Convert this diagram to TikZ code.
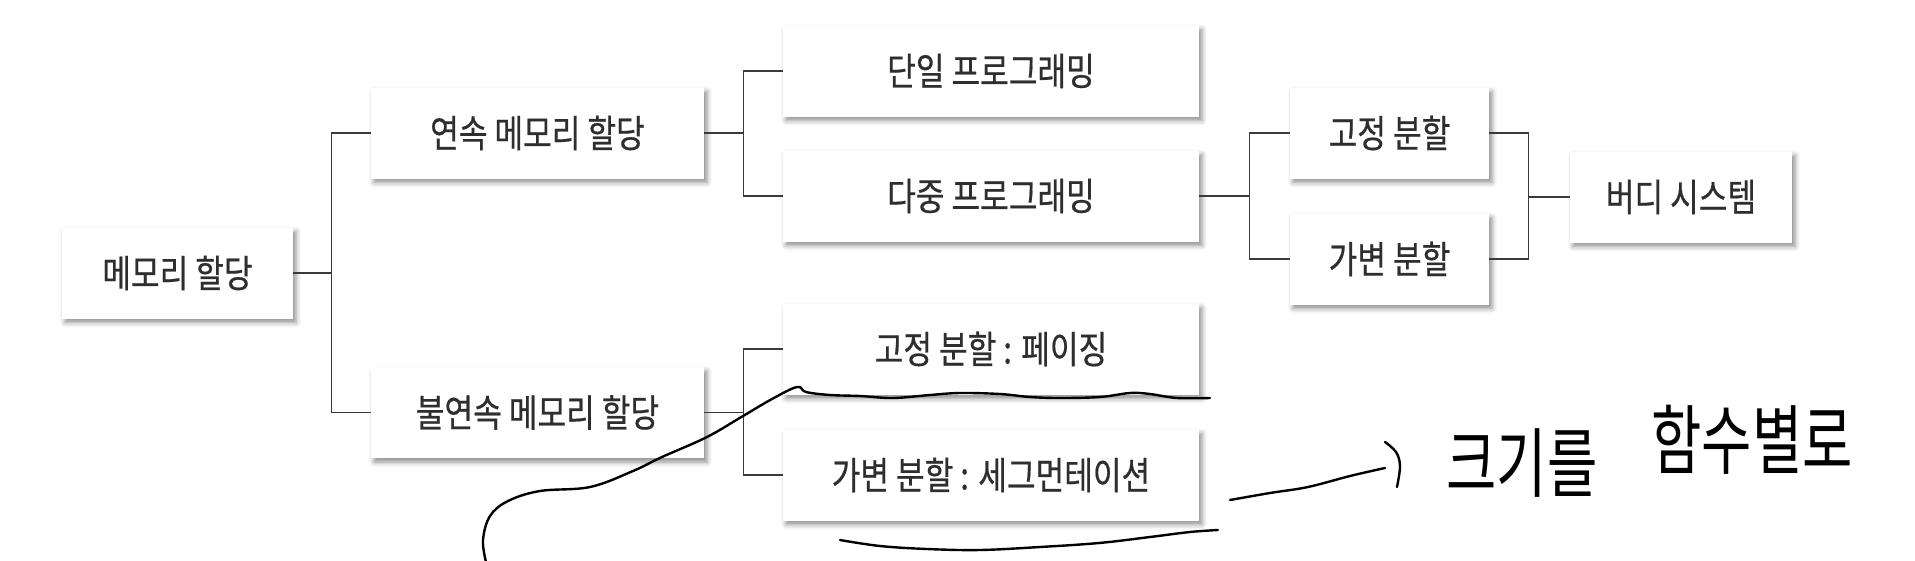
\documentclass[tikz,border=0pt]{standalone}
\usepackage{fontspec}
\setmainfont{Noto Sans CJK KR}[FakeStretch=0.82, FakeBold=0.5]
\newfontfamily\handfont{Noto Sans CJK KR}[FakeStretch=0.72]
\usetikzlibrary{shadows.blur}
\definecolor{boxtext}{HTML}{2E2E2E}
\definecolor{wiregray}{HTML}{3A3A3A}
\tikzset{
  membox/.style={fill=white, text=boxtext, inner sep=0pt, minimum height=91pt,
    font=\fontsize{38}{42}\selectfont,
    blur shadow={shadow xshift=3pt, shadow yshift=-4pt, shadow blur radius=5pt, shadow opacity=45}},
  wire/.style={draw=wiregray, line width=1.4pt},
  pen/.style={line width=2.4pt, line cap=round, line join=round},
}
\begin{document}
\begin{tikzpicture}[x=1pt,y=-1pt]
\useasboundingbox (0,0) rectangle (1915,560);
%
\node[membox, minimum width=231pt] (mem) at (177.5,273) {메모리 할당};
\node[membox, minimum width=333pt] (cont) at (537.5,133) {연속 메모리 할당};
\node[membox, minimum width=333pt] (noncont) at (537.5,412.5) {불연속 메모리 할당};
\node[membox, minimum width=416pt] (single) at (991,71) {단일 프로그래밍};
\node[membox, minimum width=416pt] (multi) at (991,196) {다중 프로그래밍};
\node[membox, minimum width=416pt] (paging) at (991,349) {고정 분할 : 페이징};
\node[membox, minimum width=416pt] (segment) at (991,475) {가변 분할 : 세그먼테이션};
\node[membox, minimum width=199pt] (fixed) at (1389.5,133) {고정 분할};
\node[membox, minimum width=199pt] (var) at (1389.5,259) {가변 분할};
\node[membox, minimum width=222pt] (buddy) at (1681,197) {버디 시스템};
%
\draw[wire] (mem.east) -- ++(38,0) |- (cont.west);
\draw[wire] (mem.east) -- ++(38,0) |- (noncont.west);
\draw[wire] (cont.east) -- ++(39,0) |- (single.west);
\draw[wire] (cont.east) -- ++(39,0) |- (multi.west);
\draw[wire] (noncont.east) -- ++(39,0) |- (paging.west);
\draw[wire] (noncont.east) -- ++(39,0) |- (segment.west);
\draw[wire] (multi.east) -- ++(50,0) |- (fixed.west);
\draw[wire] (multi.east) -- ++(50,0) |- (var.west);
\draw[wire] (fixed.east) -- ++(39,0) |- (var.east);
\draw[wire] (buddy.west) -- ++(-42,0);
%
\draw[pen] plot[smooth, tension=0.6] coordinates {(486,562) (483,540) (490,516) (508,501) (540,491) (590,487) (633,471) (662,457) (707,437) (743,416) (772,399) (797,387) (806,392) (830,395) (860,396) (893,398) (930,395) (960,393) (1000,394) (1030,397) (1060,398) (1100,397) (1130,393) (1150,394) (1177,398) (1210,398)};
\draw[pen] plot[smooth, tension=0.6] coordinates {(840,540) (880,546) (927,549) (980,550) (1040,547) (1099,543) (1150,537) (1190,532) (1218,530)};
\draw[pen] plot[smooth, tension=0.6] coordinates {(1230,500) (1270,493) (1308,487) (1350,476) (1385,468)};
\draw[pen] plot[smooth, tension=0.6] coordinates {(1385,442) (1396,452) (1400,466) (1397,487)};
\node[font=\handfont\fontsize{76}{80}\selectfont] (size) at (1522,463) {크기를};
\node[font=\handfont\fontsize{76}{80}\selectfont] (func) at (1752,440) {함수별로};
\end{tikzpicture}
\end{document}
